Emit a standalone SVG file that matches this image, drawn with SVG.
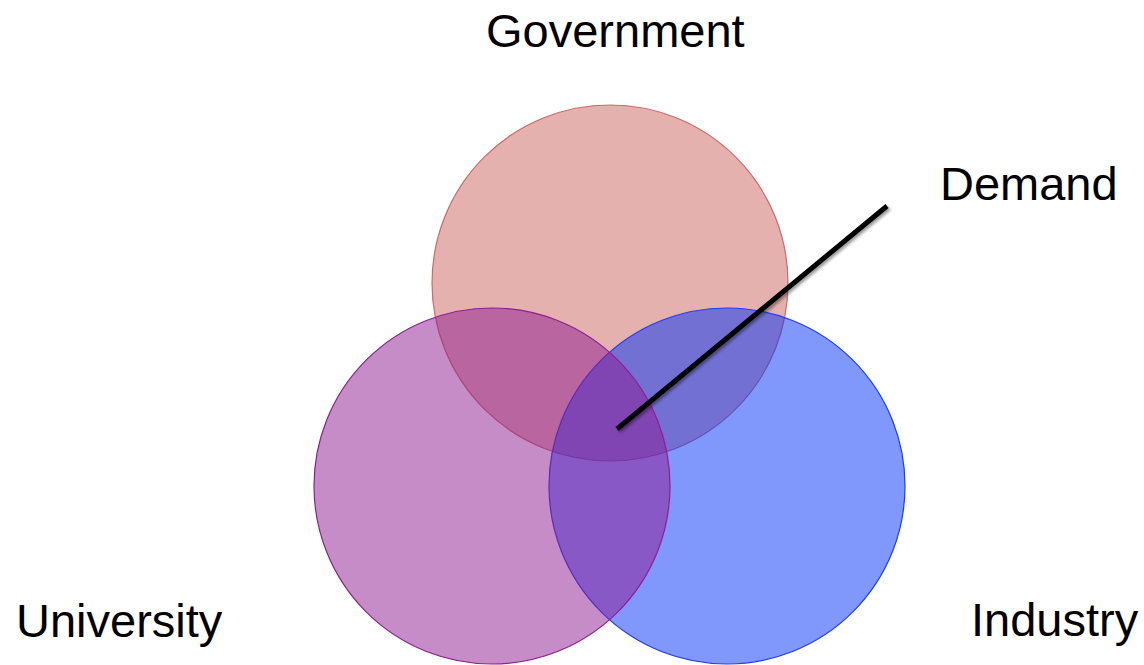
<svg xmlns="http://www.w3.org/2000/svg" width="1144" height="665" viewBox="0 0 1144 665">
<defs>
<style>
.lbl{font-family:"Liberation Sans",Arial,Helvetica,sans-serif;font-size:47px;fill:#000}
.c{stroke-width:1.2}
</style>
<filter id="sh" x="-10%" y="-10%" width="120%" height="120%">
<feGaussianBlur in="SourceAlpha" stdDeviation="1.5"/>
<feOffset dx="2" dy="2" result="b"/>
<feComponentTransfer><feFuncA type="linear" slope="0.4"/></feComponentTransfer>
<feMerge><feMergeNode/><feMergeNode in="SourceGraphic"/></feMerge>
</filter>
</defs>
<rect width="1144" height="665" fill="#fff"/>
<g id="government">
<circle class="c" cx="610" cy="283" r="178" fill="#C9635D" fill-opacity="0.5" stroke="#C0504D" stroke-opacity="0.8"/>
<text class="lbl" x="486" y="47">Government</text>
</g>
<g id="industry">
<circle class="c" cx="727" cy="486" r="178" fill="#012FF9" fill-opacity="0.5" stroke="#1E3CF5"/>
<text class="lbl" x="971" y="636">Industry</text>
</g>
<g id="university">
<circle class="c" cx="492" cy="486" r="178" fill="#8D198F" fill-opacity="0.5" stroke="#8E1E92"/>
<text class="lbl" x="16" y="637">University</text>
</g>
<g id="demand">
<text class="lbl" x="940" y="200">Demand</text>
</g>
<g id="connectors">
<line x1="617" y1="429" x2="887" y2="206" stroke="#000" stroke-width="5" filter="url(#sh)"/>
</g>
</svg>
